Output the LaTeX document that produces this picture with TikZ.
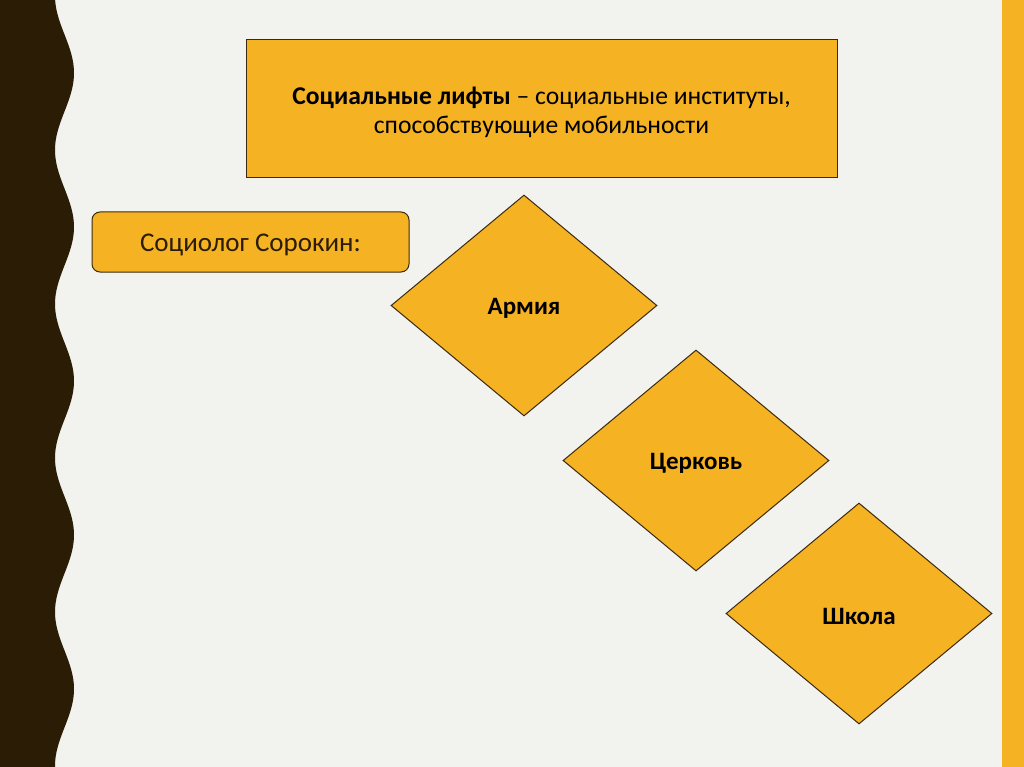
\documentclass[tikz,border=0pt]{standalone}
\usepackage{fontspec}
\setmainfont{Carlito}
\usetikzlibrary{shapes.geometric}
\definecolor{bg}{HTML}{F2F2EE}
\definecolor{darkbrown}{HTML}{2A1C05}
\definecolor{gold}{HTML}{F5B223}
\definecolor{edge}{HTML}{3A2A10}
\newcommand{\lowr}[2]{\raisebox{-#1}[\height][\depth]{#2}}
\tikzset{
  box/.style={draw=edge, fill=gold, line width=1pt, inner sep=0pt, align=center, font=\fontsize{25.6}{30}\selectfont, text=black},
  dia/.style={draw=edge, fill=gold, line width=1pt, shape=diamond, inner sep=0pt, minimum width=266pt, minimum height=221pt, font=\fontsize{25}{30}\selectfont\bfseries, text=black}
}
\begin{document}
\begin{tikzpicture}[x=1pt,y=-1pt]
\useasboundingbox (0,0) rectangle (1024,767);
\fill[bg] (0,0) rectangle (1024,767);
\fill[gold] (1002,0) rectangle (1024,767);
\fill[darkbrown] (0,0) -- plot[domain=0:767, samples=220] ({64.5-9.5*cos(2.3377*(\x+4))}, \x) -- (0,767) -- cycle;
\node[box, minimum width=591pt, minimum height=138pt] (def) at (541.5,109) {\lowr{4pt}{\begin{tabular}{@{}c@{}}\textbf{Социальные лифты} – социальные институты,\\[-1pt]способствующие мобильности\end{tabular}}};
\node[box, rounded corners=8pt, minimum width=317pt, minimum height=60pt, text=darkbrown, font=\fontsize{27}{32}\selectfont] (sor) at (250.5,242) {\lowr{3pt}{Социолог Сорокин:}};
\node[dia] (army) at (524,305.5) {\lowr{3pt}{Армия}};
\node[dia] (church) at (696,460.5) {\lowr{3pt}{Церковь}};
\node[dia] (school) at (859,613.5) {\lowr{3pt}{Школа}};
\end{tikzpicture}
\end{document}
